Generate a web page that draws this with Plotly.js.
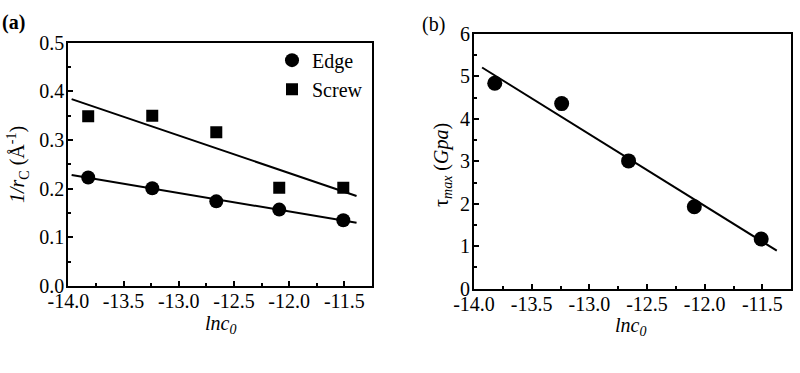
<!DOCTYPE html>
<html>
<head>
<meta charset="utf-8">
<script src="https://cdn.plot.ly/plotly-3.0.1.min.js"></script>
<style>html,body{margin:0;padding:0;background:#fff;}#chart{width:800px;height:373px;}</style>
</head>
<body>
<div id="chart"></div>
<script>
// Data
var lnc0 = [-13.82, -13.24, -12.66, -12.09, -11.51];
var edgeVals = [0.223, 0.201, 0.174, 0.157, 0.135];
var screwVals = [0.349, 0.350, 0.316, 0.202, 0.202];
var fitXA = [-13.97, -11.39];
var edgeFit = [0.228, 0.130];
var screwFit = [0.384, 0.185];
var tauVals = [4.84, 4.36, 3.01, 1.93, 1.17];
var fitXB = [-13.93, -11.375];
var tauFit = [5.21, 0.895];
var xTickVals = [-14.0, -13.5, -13.0, -12.5, -12.0, -11.5];
var xTickText = ["-14.0", "-13.5", "-13.0", "-12.5", "-12.0", "-11.5"];
var yTickValsA = [0, 0.1, 0.2, 0.3, 0.4, 0.5];
var yTickTextA = ["0.0", "0.1", "0.2", "0.3", "0.4", "0.5"];
var yTickValsB = [0, 1, 2, 3, 4, 5, 6];
var yTickTextB = ["0", "1", "2", "3", "4", "5", "6"];

var serif = "Times New Roman";
var FS = 20;
var domXA = [0.0854, 0.465], domYA = [0.2332, 0.8855];
var domXB = [0.5925, 0.989], domYB = [0.226, 0.909];

var traces = [
  {x: fitXA, y: edgeFit, mode: 'lines', line: {color: '#000', width: 2}, showlegend: false, xaxis: 'x', yaxis: 'y'},
  {x: fitXA, y: screwFit, mode: 'lines', line: {color: '#000', width: 2}, showlegend: false, xaxis: 'x', yaxis: 'y'},
  {x: lnc0, y: edgeVals, mode: 'markers', name: 'Edge', marker: {symbol: 'circle', size: 14, color: '#000'}, xaxis: 'x', yaxis: 'y'},
  {x: lnc0, y: screwVals, mode: 'markers', name: 'Screw', marker: {symbol: 'square', size: 12, color: '#000'}, xaxis: 'x', yaxis: 'y'},
  {x: fitXB, y: tauFit, mode: 'lines', line: {color: '#000', width: 2}, showlegend: false, xaxis: 'x2', yaxis: 'y2'},
  {x: lnc0, y: tauVals, mode: 'markers', marker: {symbol: 'circle', size: 15, color: '#000'}, showlegend: false, xaxis: 'x2', yaxis: 'y2'}
];

function xAxis(domain, anchor) {
  return {
    domain: domain, anchor: anchor, range: [-14.0, -11.25],
    tickvals: xTickVals, ticktext: xTickText,
    ticks: 'inside', ticklen: 5, tickwidth: 2, tickcolor: '#000',
    ticklabelstandoff: -4,
    minor: {ticks: 'inside', ticklen: 3, tickwidth: 2, tickcolor: '#000', dtick: 0.25, tick0: -14},
    showline: true, linecolor: '#000', linewidth: 2, mirror: true,
    showgrid: false, zeroline: false,
    tickfont: {family: serif, size: FS, color: '#000'}
  };
}
function yAxis(domain, anchor, range, vals, text, minorD) {
  return {
    domain: domain, anchor: anchor, range: range,
    tickvals: vals, ticktext: text,
    ticks: 'inside', ticklen: 5, tickwidth: 2, tickcolor: '#000',
    ticklabelstandoff: -2,
    minor: {ticks: 'inside', ticklen: 3, tickwidth: 2, tickcolor: '#000', dtick: minorD, tick0: 0},
    showline: true, linecolor: '#000', linewidth: 2, mirror: true,
    showgrid: false, zeroline: false,
    tickfont: {family: serif, size: FS, color: '#000'}
  };
}

var layout = {
  width: 800, height: 373,
  margin: {l: 0, r: 0, t: 0, b: 0},
  paper_bgcolor: '#fff', plot_bgcolor: '#fff',
  font: {family: serif, size: FS, color: '#000'},
  xaxis: xAxis(domXA, 'y'),
  yaxis: yAxis(domYA, 'x', [0, 0.5], yTickValsA, yTickTextA, 0.05),
  xaxis2: xAxis(domXB, 'y2'),
  yaxis2: yAxis(domYB, 'x2', [0, 6], yTickValsB, yTickTextB, 0.5),
  legend: {x: 0.34, y: 0.891, xanchor: 'left', yanchor: 'top', bgcolor: 'rgba(0,0,0,0)',
           font: {family: serif, size: 20, color: '#000'}, tracegroupgap: 0, itemwidth: 30},
  annotations: [
    {xref: 'paper', yref: 'paper', x: 0.0, y: 1 - 22/373, xanchor: 'left', yanchor: 'middle', showarrow: false,
     text: '<b>(a)</b>', font: {family: serif, size: 20, color: '#000'}},
    {xref: 'paper', yref: 'paper', x: 420/800, y: 1 - 24/373, xanchor: 'left', yanchor: 'middle', showarrow: false,
     text: '(b)', font: {family: serif, size: 20, color: '#000'}},
    {xref: 'paper', yref: 'paper', x: 220/800, y: 1 - 324/373, xanchor: 'center', yanchor: 'middle', showarrow: false,
     text: '<i>lnc</i><sub><i>0</i></sub>', font: {family: serif, size: 20, color: '#000'}},
    {xref: 'paper', yref: 'paper', x: 630/800, y: 1 - 326/373, xanchor: 'center', yanchor: 'middle', showarrow: false,
     text: '<i>lnc</i><sub><i>0</i></sub>', font: {family: serif, size: 20, color: '#000'}},
    {xref: 'paper', yref: 'paper', x: 18/800, y: 1 - 165/373, xanchor: 'center', yanchor: 'middle', showarrow: false, textangle: -90,
     text: '<i>1/r</i><sub>C</sub> (Å<sup>-1</sup>)', font: {family: serif, size: 20, color: '#000'}},
    {xref: 'paper', yref: 'paper', x: 442/800, y: 1 - 165/373, xanchor: 'center', yanchor: 'middle', showarrow: false, textangle: -90,
     text: 'τ<sub><i>max</i></sub> (<i>Gpa</i>)', font: {family: serif, size: 20, color: '#000'}}
  ]
};

Plotly.newPlot('chart', traces, layout, {staticPlot: true});
</script>
</body>
</html>
